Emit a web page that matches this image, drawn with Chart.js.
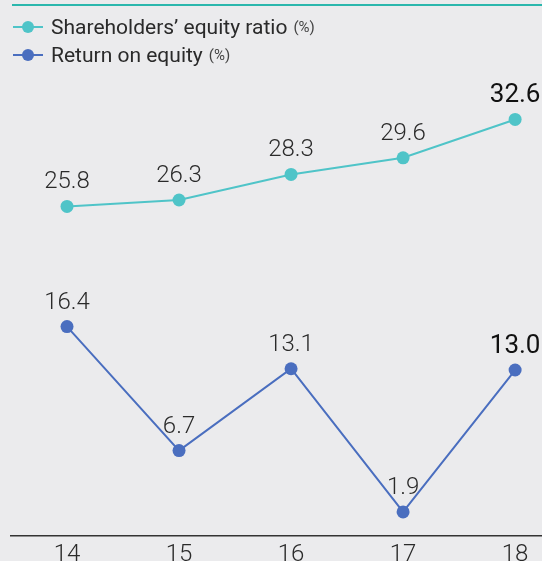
<!DOCTYPE html>
<html>
<head>
<meta charset="utf-8">
<script src="https://cdn.jsdelivr.net/npm/chart.js@4"></script>
<style>
  html, body { margin: 0; padding: 0; background: #ebebed; overflow: hidden; }
  body { width: 542px; height: 561px; position: relative; font-family: Roboto, sans-serif; }
  #top-rule { position: absolute; left: 12px; right: 0; top: 4px; border-top: 2px solid #2bb7ad; }
  #legend { position: absolute; left: 13px; top: 13px; color: #2a2a2a; }
  .legend-item { display: flex; align-items: center; height: 28px; font-size: 21px; }
  .legend-mark { position: relative; width: 30px; height: 14px; margin-right: 8px; }
  .legend-mark::before { content: ''; position: absolute; left: 0; right: 0; top: 6px; height: 2px; background: var(--c); }
  .legend-mark::after { content: ''; position: absolute; left: 9px; top: 1px; width: 12px; height: 12px; border-radius: 50%; background: var(--c); }
  .legend-item small { font-size: 15px; margin-left: 6px; color: #444; }
  #chart-box { position: absolute; left: 0; top: 0; width: 542px; height: 573px; }
</style>
</head>
<body>
<div id="top-rule"></div>
<div id="chart-box"><canvas id="chart"></canvas></div>
<div id="legend">
  <div class="legend-item"><span class="legend-mark" style="--c:#4fc4c8"></span>Shareholders’ equity ratio<small>(%)</small></div>
  <div class="legend-item"><span class="legend-mark" style="--c:#4a6ebf"></span>Return on equity<small>(%)</small></div>
</div>
<script>
document.addEventListener('DOMContentLoaded', function () {
  const years = ['14', '15', '16', '17', '18'];
  const equityRatio = [25.8, 26.3, 28.3, 29.6, 32.6];
  const returnOnEquity = [16.4, 6.7, 13.1, 1.9, 13.0];

  const teal = '#4fc4c8';
  const blue = '#4a6ebf';

  const toPoints = (vals) => vals.map((v, i) => ({ x: Number(years[i]), y: v }));

  // value labels above each point, last year drawn heavier
  const valueLabels = {
    id: 'valueLabels',
    afterDatasetsDraw(chart) {
      const ctx = chart.ctx;
      ctx.save();
      ctx.textAlign = 'center';
      ctx.textBaseline = 'middle';
      chart.data.datasets.forEach((ds, di) => {
        chart.getDatasetMeta(di).data.forEach((pt, i) => {
          const last = i === ds.data.length - 1;
          ctx.font = last ? '400 26px Roboto' : '300 24px Roboto';
          ctx.fillStyle = last ? '#111' : '#2a2a2a';
          ctx.fillText(ds.data[i].y.toFixed(1), pt.x, pt.y - 24);
        });
      });
      ctx.restore();
    }
  };

  const ctx = document.getElementById('chart').getContext('2d');
  new Chart(ctx, {
    type: 'line',
    data: {
      datasets: [
        { label: 'Shareholders’ equity ratio', data: toPoints(equityRatio), borderColor: teal, backgroundColor: teal },
        { label: 'Return on equity', data: toPoints(returnOnEquity), borderColor: blue, backgroundColor: blue }
      ]
    },
    options: {
      responsive: true,
      maintainAspectRatio: false,
      animation: false,
      layout: { autoPadding: false, padding: { top: 76, left: 11, right: 0, bottom: 0 } },
      elements: {
        line: { borderWidth: 2, tension: 0 },
        point: { radius: 6.5, borderWidth: 0, hoverRadius: 6.5 }
      },
      plugins: { legend: { display: false }, tooltip: { enabled: false } },
      scales: {
        x: {
          type: 'linear',
          min: 13.5,
          max: 18.24,
          grid: { display: false, drawTicks: false },
          border: { display: true, color: '#333', width: 1.5 },
          afterBuildTicks: (axis) => { axis.ticks = years.map(y => ({ value: Number(y) })); },
          ticks: {
            padding: 4,
            color: '#2a2a2a',
            font: { family: 'Roboto', size: 24, weight: 300 },
            callback: (v) => years[years.indexOf(String(v))]
          }
        },
        y: { display: false, min: 0, max: 36 }
      }
    },
    plugins: [valueLabels]
  });
});
</script>
</body>
</html>
